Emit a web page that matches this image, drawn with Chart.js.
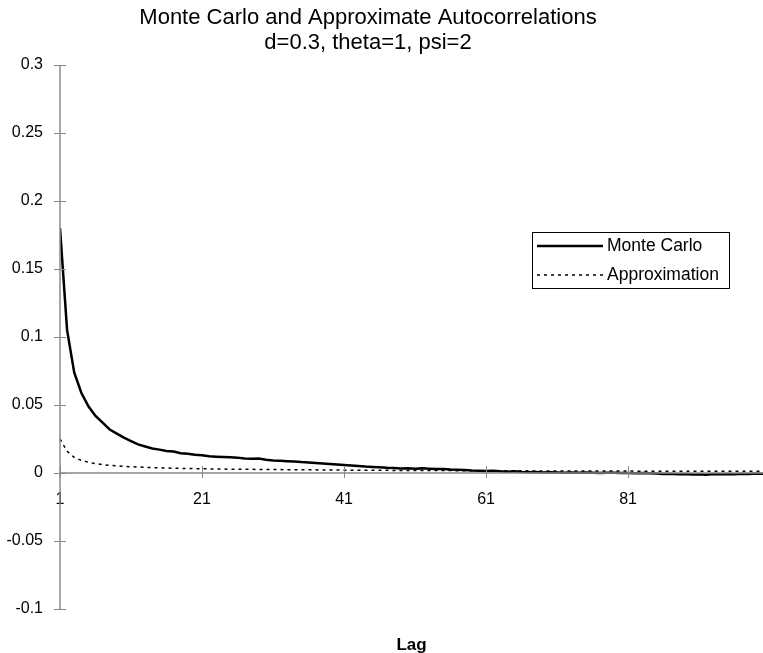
<!DOCTYPE html>
<html>
<head>
<meta charset="utf-8">
<script src="https://cdn.jsdelivr.net/npm/chart.js@4.4.1/dist/chart.umd.min.js"></script>
<style>
  html, body { margin: 0; padding: 0; background: #fff; }
  #wrap { width: 763px; height: 653px; }
</style>
</head>
<body>
<div id="wrap"><canvas id="myChart" width="763" height="653"></canvas></div>
<script>
const titleLines = ["Monte Carlo and Approximate Autocorrelations", "d=0.3, theta=1, psi=2"];
const xTitle = "Lag";

const lags = [
  1, 2, 3, 4, 5, 6, 7, 8, 9, 10, 11, 12, 13, 14, 15, 16, 17, 18, 19, 20,
  21, 22, 23, 24, 25, 26, 27, 28, 29, 30, 31, 32, 33, 34, 35, 36, 37, 38, 39, 40,
  41, 42, 43, 44, 45, 46, 47, 48, 49, 50, 51, 52, 53, 54, 55, 56, 57, 58, 59, 60,
  61, 62, 63, 64, 65, 66, 67, 68, 69, 70, 71, 72, 73, 74, 75, 76, 77, 78, 79, 80,
  81, 82, 83, 84, 85, 86, 87, 88, 89, 90, 91, 92, 93, 94, 95, 96, 97, 98, 99, 100
];

const monteCarlo = [
  0.180, 0.105, 0.074, 0.059, 0.049, 0.042, 0.037, 0.032, 0.029, 0.026,
  0.0235, 0.021, 0.0195, 0.018, 0.0172, 0.0162, 0.0158, 0.0146, 0.0142, 0.0135,
  0.013, 0.0124, 0.012, 0.0117, 0.0115, 0.0113, 0.0106, 0.0104, 0.0106, 0.0098,
  0.0092, 0.009, 0.0087, 0.0084, 0.008, 0.0078, 0.0074, 0.007, 0.0066, 0.0062,
  0.0058, 0.0055, 0.0052, 0.0047, 0.0044, 0.0042, 0.0038, 0.0036, 0.0034, 0.0035,
  0.0032, 0.0034, 0.0031, 0.0029, 0.003, 0.0026, 0.0024, 0.0022, 0.0018, 0.0016,
  0.0015, 0.0017, 0.0012, 0.001, 0.0012, 0.0008, 0.0006, 0.0007, 0.0004, 0.0005,
  0.0003, 0.0002, 0.0004, 0.0001, 0.0003, 0.0002, 0.0, 0.0002, 0.0001, 0.0,
  0.0, -0.0001, 0.0, -0.0002, -0.0004, -0.0008, -0.0006, -0.0009, -0.0007, -0.0011,
  -0.0009, -0.0012, -0.0008, -0.001, -0.0007, -0.0009, -0.0006, -0.0007, -0.0004, -0.0005
];

const approximation = [
  0.025, 0.016, 0.0115, 0.0093, 0.0079, 0.0069, 0.0062, 0.0056, 0.0052, 0.0049,
  0.0046, 0.0044, 0.0042, 0.004, 0.0038, 0.0037, 0.0035, 0.0034, 0.0033, 0.0032,
  0.0031, 0.003, 0.003, 0.0029, 0.0028, 0.0028, 0.0027, 0.0027, 0.0026, 0.0026,
  0.0025, 0.0025, 0.0024, 0.0024, 0.0023, 0.0023, 0.0023, 0.0022, 0.0022, 0.0022,
  0.0021, 0.0021, 0.0021, 0.002, 0.002, 0.002, 0.002, 0.0019, 0.0019, 0.0019,
  0.0019, 0.0018, 0.0018, 0.0018, 0.0018, 0.0018, 0.0017, 0.0017, 0.0017, 0.0017,
  0.0017, 0.0016, 0.0016, 0.0016, 0.0016, 0.0016, 0.0016, 0.0015, 0.0015, 0.0015,
  0.0015, 0.0015, 0.0015, 0.0015, 0.0014, 0.0014, 0.0014, 0.0014, 0.0014, 0.0014,
  0.0014, 0.0014, 0.0013, 0.0013, 0.0013, 0.0013, 0.0013, 0.0013, 0.0013, 0.0013,
  0.0013, 0.0012, 0.0012, 0.0012, 0.0012, 0.0012, 0.0012, 0.0012, 0.0012, 0.0012
];

const xTickValues = [1, 21, 41, 61, 81];
const yTickValues = [-0.1, -0.05, 0, 0.05, 0.1, 0.15, 0.2, 0.25, 0.3];

const axisGray = "#8a8a8a";
const fontFamily = "'Liberation Sans', Arial, sans-serif";

// titles, crossing tick marks and the boxed legend
const extrasPlugin = {
  id: "extras",
  afterDraw(chart) {
    const ctx = chart.ctx;
    const xs = chart.scales.x;
    const ys = chart.scales.y;
    const area = chart.chartArea;
    const y0 = ys.getPixelForValue(0);
    const xAxis = xs.getPixelForValue(1);

    ctx.save();
    // axis lines
    ctx.strokeStyle = axisGray;
    ctx.lineWidth = 1.5;
    ctx.beginPath();
    ctx.moveTo(xAxis, ys.getPixelForValue(0.3));
    ctx.lineTo(xAxis, ys.getPixelForValue(-0.1));
    ctx.moveTo(xAxis, y0);
    ctx.lineTo(area.right, y0);
    ctx.stroke();

    // tick marks crossing the axes
    ctx.lineWidth = 1;
    ctx.beginPath();
    xTickValues.forEach((v) => {
      const px = Math.round(xs.getPixelForValue(v)) + 0.5;
      ctx.moveTo(px, y0 - 7);
      ctx.lineTo(px, y0 + 5);
    });
    yTickValues.forEach((v) => {
      const py = Math.round(ys.getPixelForValue(v)) + 0.5;
      ctx.moveTo(xAxis - 6, py);
      ctx.lineTo(xAxis + 6, py);
    });
    ctx.stroke();

    // title
    ctx.fillStyle = "#000";
    ctx.textAlign = "center";
    ctx.textBaseline = "alphabetic";
    ctx.font = "22px " + fontFamily;
    ctx.fillText(titleLines[0], 368, 24);
    ctx.fillText(titleLines[1], 368, 49);

    // x axis title
    ctx.font = "bold 17px " + fontFamily;
    ctx.fillText(xTitle, (area.left + area.right) / 2, 650);

    // legend
    const box = { x: 532, y: 232, w: 197, h: 56 };
    ctx.strokeStyle = "#000";
    ctx.lineWidth = 1;
    ctx.strokeRect(box.x + 0.5, box.y + 0.5, box.w, box.h);
    ctx.font = "17.5px " + fontFamily;
    ctx.textAlign = "left";
    ctx.textBaseline = "middle";
    chart.data.datasets.forEach((ds, i) => {
      const ly = box.y + 14 + i * 29;
      ctx.strokeStyle = ds.borderColor;
      ctx.lineWidth = ds.borderWidth;
      ctx.setLineDash(ds.borderDash || []);
      ctx.beginPath();
      ctx.moveTo(box.x + 5, ly);
      ctx.lineTo(box.x + 71, ly);
      ctx.stroke();
      ctx.setLineDash([]);
      ctx.fillText(ds.label, box.x + 75, ly);
    });
    ctx.restore();
  },
};

const ctx = document.getElementById("myChart").getContext("2d");
const myChart = new Chart(ctx, {
  type: "line",
  data: {
    datasets: [
      {
        label: "Monte Carlo",
        data: lags.map((lag, i) => ({ x: lag, y: monteCarlo[i] })),
        borderColor: "#000",
        borderWidth: 2.5,
        pointRadius: 0,
        tension: 0,
        order: 2,
      },
      {
        label: "Approximation",
        data: lags.map((lag, i) => ({ x: lag, y: approximation[i] })),
        borderColor: "#000",
        borderWidth: 1.5,
        borderDash: [3, 4],
        pointRadius: 0,
        tension: 0,
        order: 1,
      },
    ],
  },
  options: {
    responsive: false,
    animation: false,
    layout: { padding: { top: 65, left: 5, right: 0, bottom: 44 } },
    plugins: {
      legend: { display: false },
      title: { display: false },
      tooltip: { enabled: false },
    },
    scales: {
      x: {
        type: "linear",
        position: { y: 0 },
        min: 1,
        max: 100,
        afterBuildTicks: (scale) => {
          scale.ticks = xTickValues.map((v) => ({ value: v }));
        },
        grid: { display: false, drawTicks: false },
        border: { display: false },
        ticks: {
          color: "#000",
          font: { family: fontFamily, size: 16 },
          padding: 17,
          maxRotation: 0,
          autoSkip: false,
        },
      },
      y: {
        type: "linear",
        min: -0.1,
        max: 0.3,
        afterBuildTicks: (scale) => {
          scale.ticks = yTickValues.map((v) => ({ value: v }));
        },
        afterFit: (scale) => {
          scale.width = 55;
        },
        grid: { display: false, drawTicks: false },
        border: { display: false },
        ticks: {
          color: "#000",
          font: { family: fontFamily, size: 16 },
          padding: 17,
          callback: (v) => String(Math.round(v * 100) / 100),
        },
      },
    },
  },
  plugins: [extrasPlugin],
});
</script>
</body>
</html>
